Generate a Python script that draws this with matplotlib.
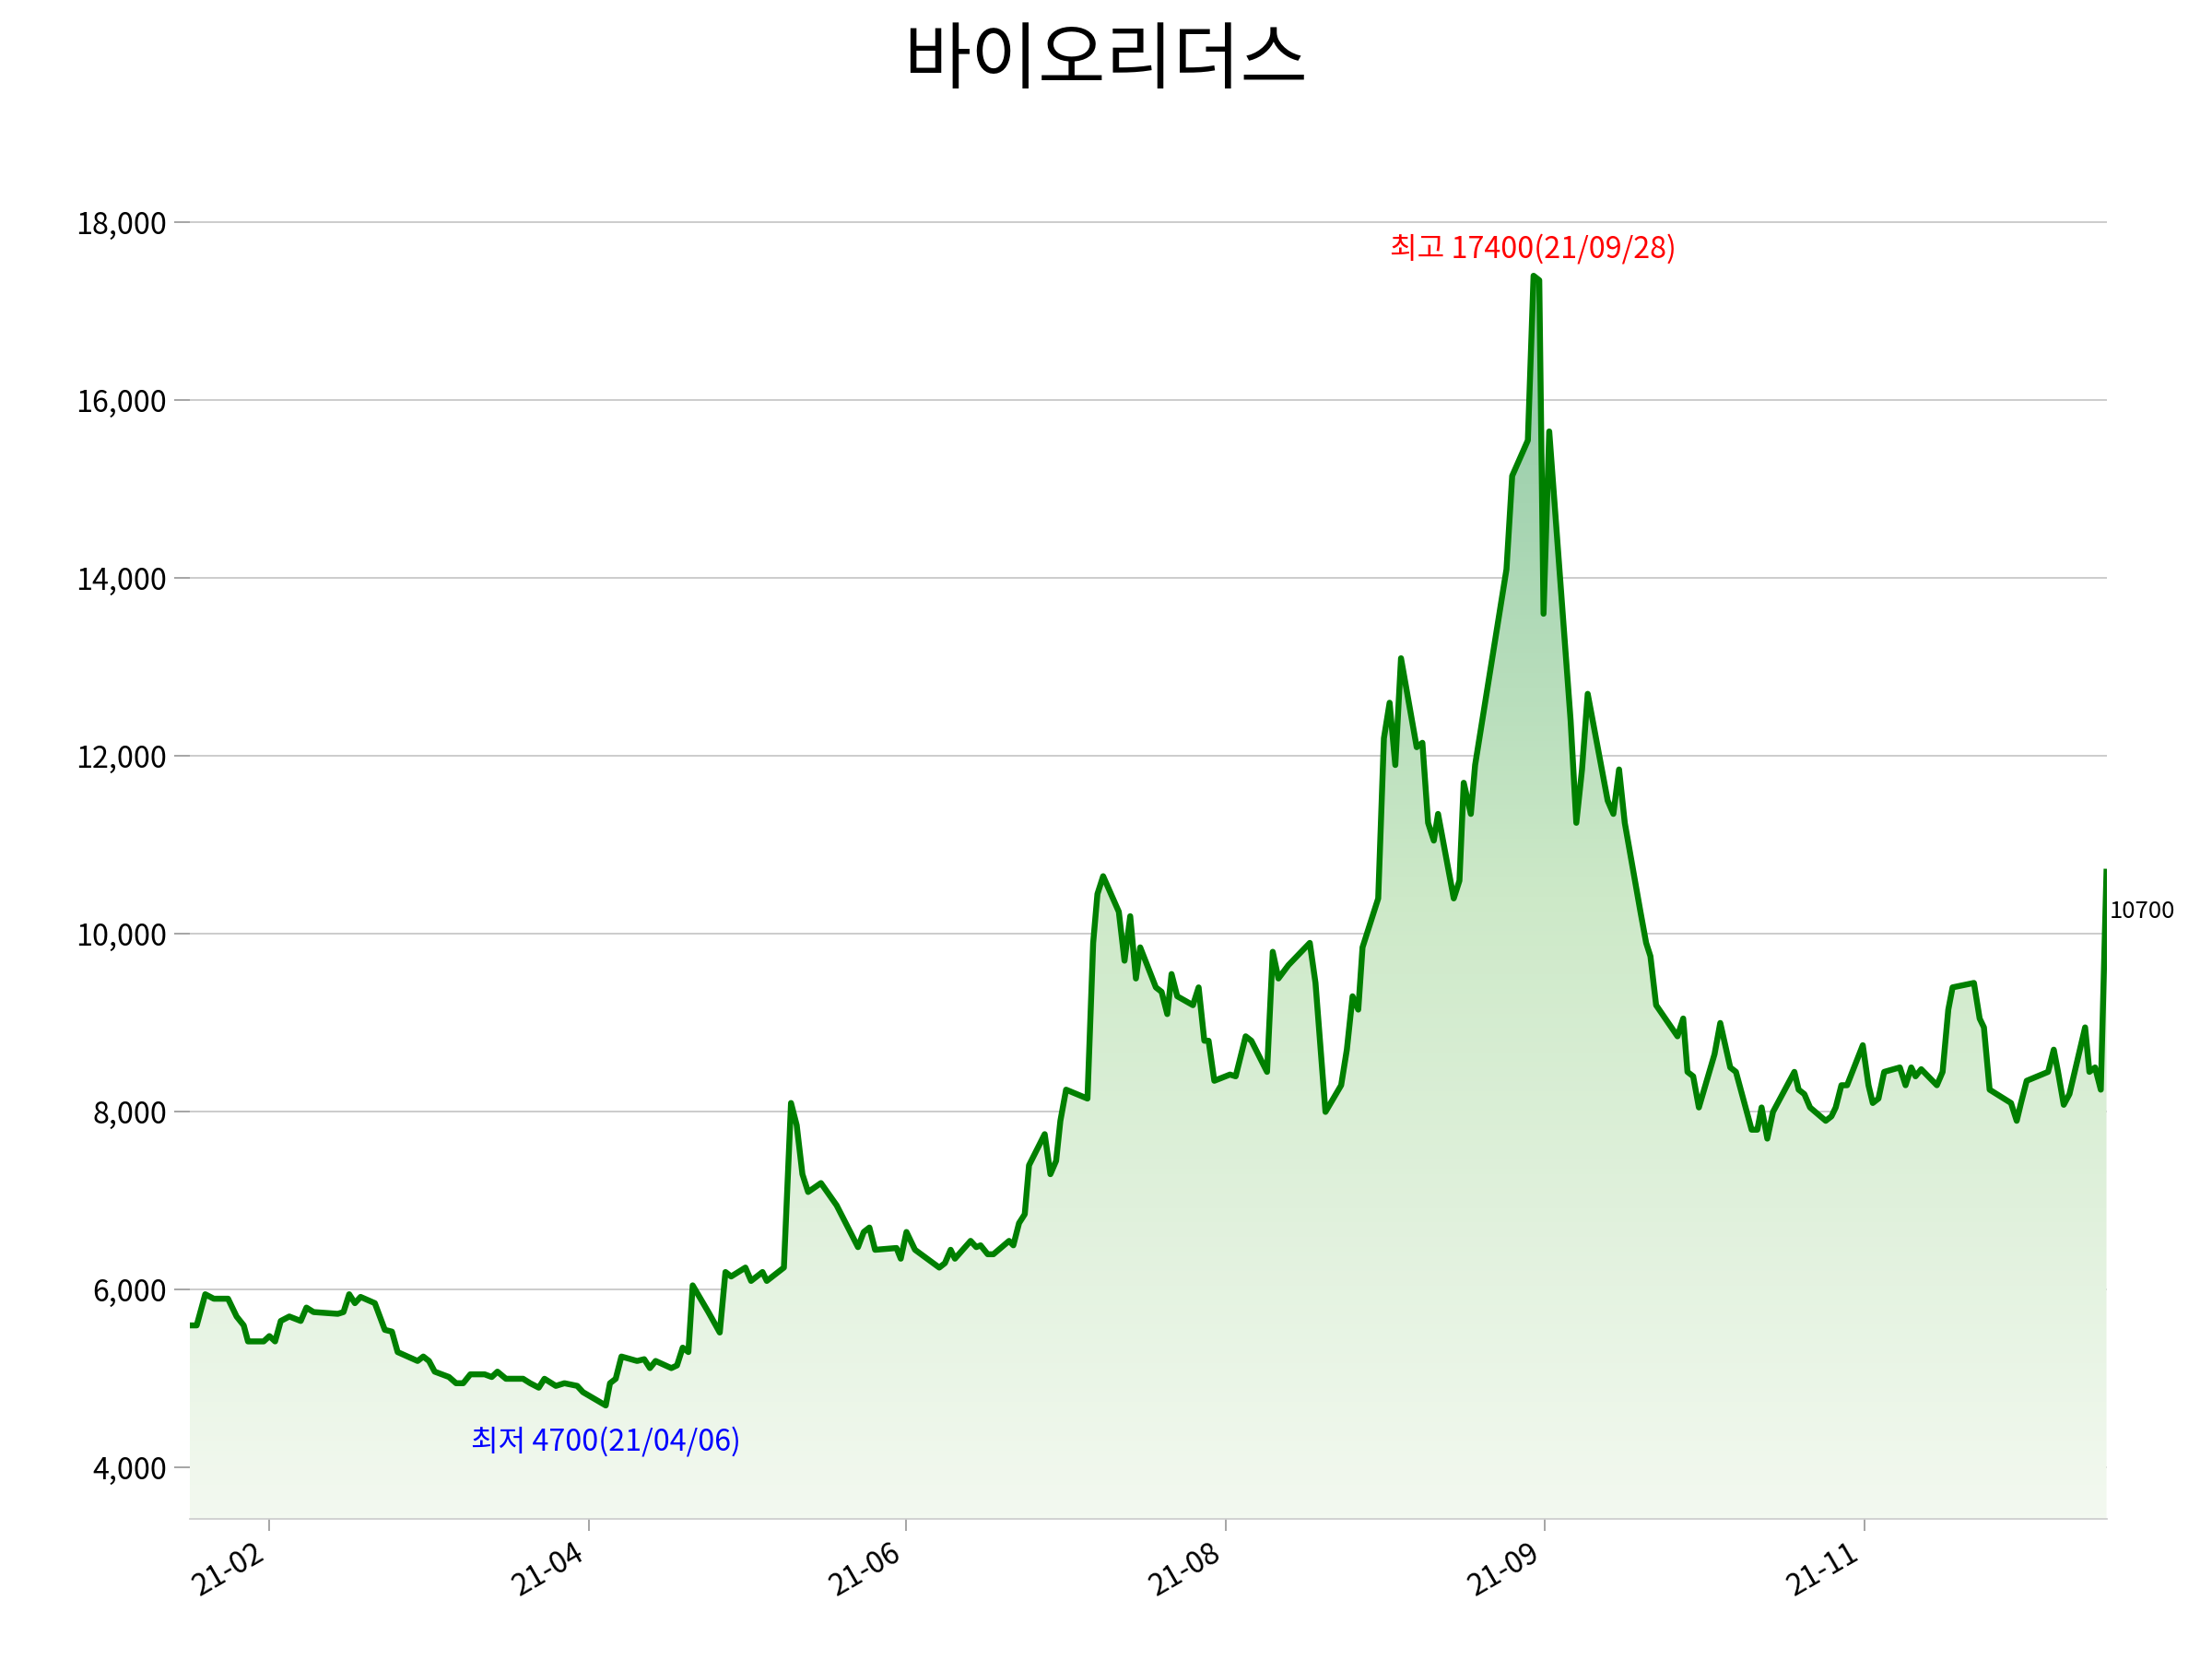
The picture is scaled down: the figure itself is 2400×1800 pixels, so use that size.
import matplotlib
matplotlib.use("Agg")
import matplotlib.pyplot as plt
import numpy as np
from matplotlib.colors import LinearSegmentedColormap

plt.rcParams['font.family'] = ['Noto Sans CJK KR', 'DejaVu Sans']

title = "바이오리더스"
# position on time axis (chart units) and closing price
t = [133,138,144,150,160,166,171,174,185,189,193,197,203,211,215,220,237,241,245,249,253,263,270,275,279,293,297,301,305,315,320,325,330,340,345,349,355,367,372,378,382,390,396,405,409,425,428,432,436,447,452,456,460,471,475,479,483,486,497,505,509,513,523,527,535,538,550,555,559,563,567,576,587,602,606,610,614,629,632,636,642,659,663,667,670,681,685,688,693,697,708,711,715,719,722,733,737,741,744,748,763,767,770,774,785,789,793,797,800,811,815,819,822,826,837,841,845,848,852,863,867,874,878,889,893,897,904,919,923,930,941,945,949,953,956,967,971,975,979,983,994,998,1002,1006,1009,1020,1024,1027,1032,1035,1057,1061,1072,1076,1080,1083,1087,1102,1106,1110,1114,1128,1132,1136,1140,1151,1155,1158,1162,1177,1181,1184,1188,1192,1203,1207,1214,1218,1229,1233,1236,1240,1244,1259,1262,1266,1270,1281,1285,1288,1292,1296,1307,1311,1314,1318,1322,1333,1337,1341,1344,1348,1359,1363,1367,1370,1385,1389,1392,1396,1411,1415,1418,1422,1437,1441,1444,1448,1452,1463,1466,1470,1474,1478]
price = [5600,5600,5950,5900,5900,5700,5600,5420,5420,5480,5420,5650,5700,5650,5800,5750,5730,5750,5950,5850,5920,5850,5550,5530,5300,5200,5250,5200,5080,5020,4950,4950,5050,5050,5020,5080,5000,5000,4950,4900,5000,4920,4950,4920,4850,4700,4950,5000,5250,5200,5220,5120,5200,5120,5150,5350,5300,6050,5750,5520,6200,6150,6250,6100,6200,6100,6250,8100,7850,7300,7100,7200,6950,6480,6650,6700,6450,6470,6350,6650,6450,6250,6300,6450,6350,6550,6480,6500,6400,6400,6550,6500,6750,6850,7400,7750,7300,7450,7900,8250,8150,9900,10450,10650,10250,9700,10200,9500,9850,9400,9350,9100,9550,9300,9200,9400,8800,8800,8350,8420,8400,8850,8800,8450,9800,9500,9650,9900,9450,8000,8300,8700,9300,9150,9850,10400,12200,12600,11900,13100,12100,12150,11250,11050,11350,10400,10600,11700,11350,11900,14100,15150,15550,17400,17350,13600,15650,12400,11250,11850,12700,11500,11350,11850,11250,10250,9900,9750,9200,8850,9050,8450,8400,8050,8650,9000,8500,8450,7800,7800,8050,7700,8000,8450,8250,8200,8050,7900,7950,8050,8300,8300,8750,8300,8100,8150,8450,8500,8300,8500,8400,8480,8300,8450,9150,9400,9450,9050,8950,8250,8100,7900,8100,8350,8450,8700,8450,8080,8200,8950,8450,8500,8250,10700]
tick_pos = [189,413,636,860,1084,1308]
tick_labels = ["21-02","21-04","21-06","21-08","21-09","21-11"]
max_label = "최고 17400(21/09/28)"
min_label = "최저 4700(21/04/06)"
last_label = "10700"

fig = plt.figure(figsize=(15.52, 11.64), dpi=154.64)
ax = fig.add_axes([0.0857, 0.0842, 0.8666, 0.83])
ymin, ymax = 3420, 18900
ax.set_xlim(133, 1478)
ax.set_ylim(ymin, ymax)

cmap = LinearSegmentedColormap.from_list("g", ["#f3f9f0", "#cde9c8", "#8ec8a4"])
grad = np.linspace(0, 1, 256).reshape(-1, 1)
im = ax.imshow(grad, cmap=cmap, aspect='auto', origin='lower',
               extent=[133, 1478, ymin, max(price)], zorder=1)
poly = ax.fill_between(t, price, ymin, color='none')
clip = poly.get_paths()[0]
im.set_clip_path(clip, transform=ax.transData)
ax.plot(t, price, color='green', lw=3, zorder=3)

ax.set_yticks(range(4000, 18001, 2000))
ax.set_yticklabels([f"{v:,}" for v in range(4000, 18001, 2000)], fontsize=15)
ax.yaxis.grid(True, color='#cccccc', lw=0.9)
ax.set_axisbelow(True)
ax.set_xticks(tick_pos)
ax.set_xticklabels(tick_labels, rotation=30, ha='right', fontsize=15)
ax.tick_params(axis='y', length=8, color='#999999')
ax.tick_params(axis='x', length=6, color='#999999')
for s in ['top', 'right', 'left']:
    ax.spines[s].set_visible(False)
ax.spines['bottom'].set_color('#cccccc')

imax = int(np.argmax(price)); imin = int(np.argmin(price))
ax.text(t[imax], 17700, max_label, color='red', ha='center', va='center', fontsize=15)
ax.text(t[imin], 4290, min_label, color='blue', ha='center', va='center', fontsize=15)
ax.text(t[-1] + 2, 10250, last_label, color='black', ha='left', va='center', fontsize=12)

fig.suptitle(title, fontsize=37, y=0.985)
fig.savefig("out.png", dpi=154.64)
